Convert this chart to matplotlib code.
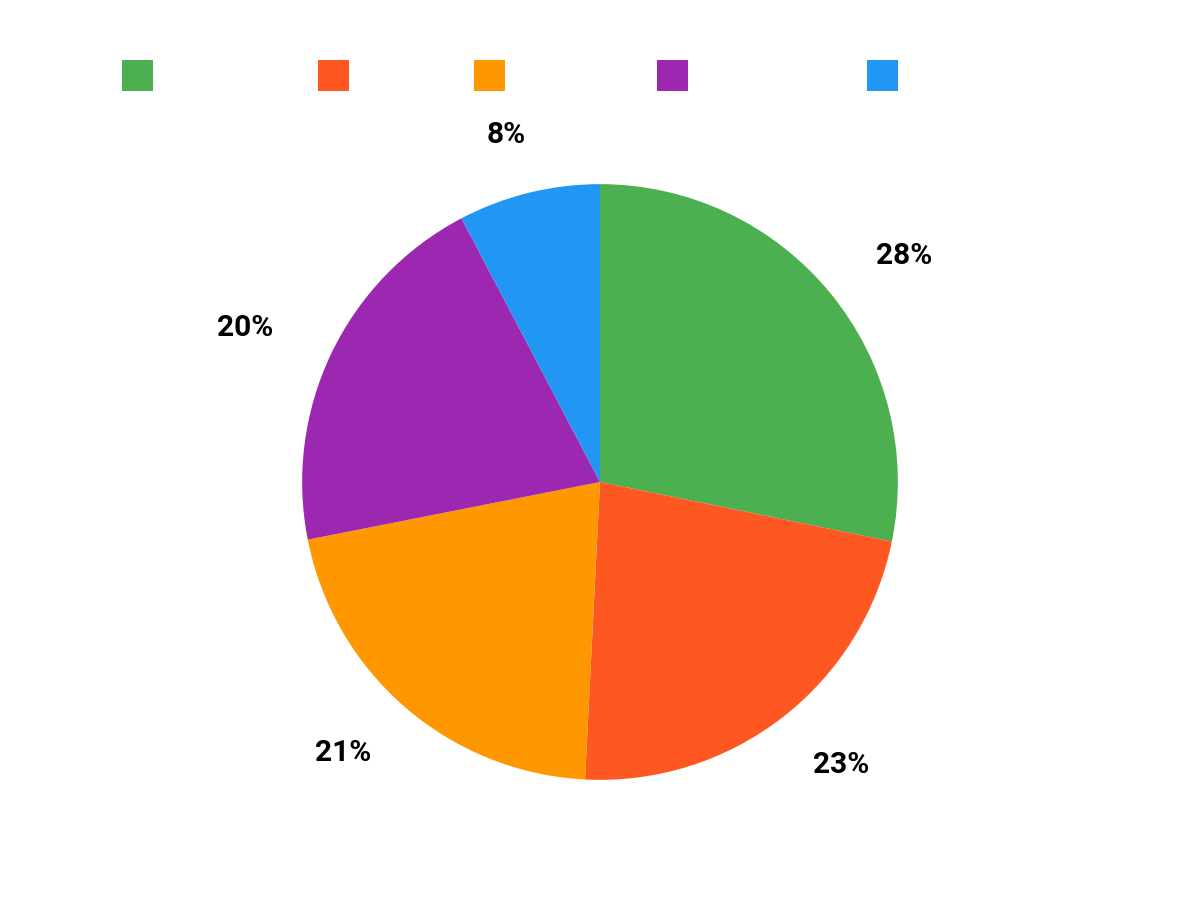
import numpy as np
import matplotlib.pyplot as plt
from matplotlib.patches import Patch

plt.rcParams['font.family'] = ['Roboto', 'DejaVu Sans']

shares = [28.2, 22.6, 21.1, 20.4, 7.7]
colors = ['#4caf50', '#ff5722', '#ff9800', '#9c27b0', '#2196f3']
# legend swatch left edges (figure fraction), labels in the source are blank
legend_x = [122 / 1200, 318 / 1200, 474 / 1200, 657 / 1200, 867 / 1200]

fig = plt.figure(figsize=(12, 9), dpi=100)
ax = fig.add_axes([0.1525, 0.0011, 0.695, 0.9267])

wedges, _ = ax.pie(shares, colors=colors, startangle=90, counterclock=False,
                   radius=1.0, wedgeprops={'linewidth': 0})

# outside labels sit on a slightly wider-than-tall ring
for w, v in zip(wedges, shares):
    mid = np.deg2rad((w.theta1 + w.theta2) / 2)
    ax.text(1.319 * np.cos(mid), 1.201 * np.sin(mid), '%d%%' % round(v),
            ha='center', va='center',
            fontsize=21.5, fontweight='bold', color='black')

ax.set_xlim(-1.4, 1.4)
ax.set_ylim(-1.4, 1.4)
ax.set_aspect('equal')
ax.axis('off')

for x, c in zip(legend_x, colors):
    fig.legend(handles=[Patch(facecolor=c, edgecolor='none')], labels=[''],
               loc='center left', bbox_to_anchor=(x, 1 - 75.5 / 900),
               frameon=False, fontsize=20, borderpad=0, borderaxespad=0,
               handlelength=1.1, handleheight=1.3, handletextpad=0)

fig.savefig('out.png', dpi=100)
